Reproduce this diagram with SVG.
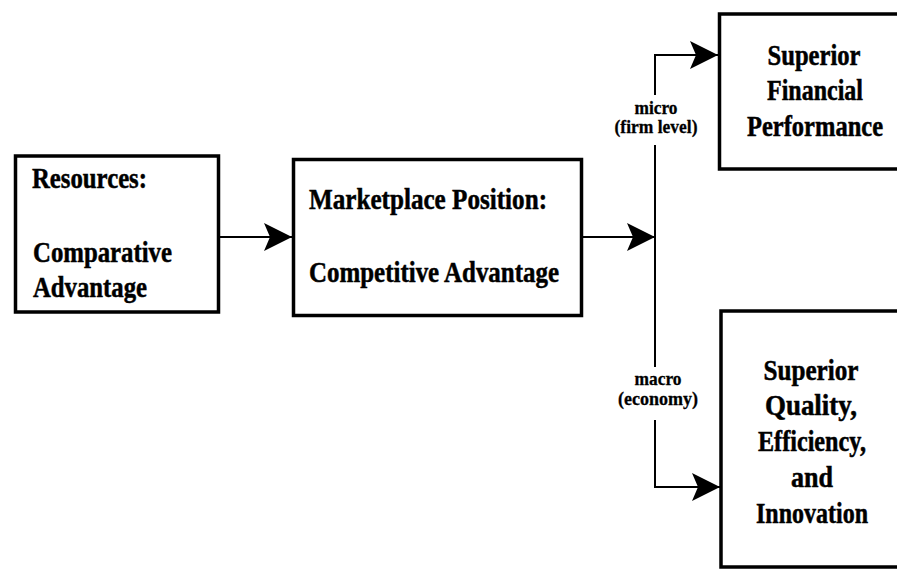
<svg xmlns="http://www.w3.org/2000/svg" width="897" height="571" viewBox="0 0 897 571">
<style>
.box{fill:#fff;stroke:#000;stroke-width:3.5}
.t{font-family:"Liberation Serif","Times New Roman",serif;font-weight:bold;font-size:30px;fill:#000;stroke:#000;stroke-width:0.5}
.r{font-size:29px}
.s{font-family:"Liberation Serif","Times New Roman",serif;font-weight:bold;font-size:19px;fill:#000;stroke:#000;stroke-width:0.3}
.c{text-anchor:middle}
.ln{fill:none;stroke:#000;stroke-width:2}
</style>
<defs>
<marker id="ah" markerUnits="userSpaceOnUse" markerWidth="30" markerHeight="30" refX="28" refY="14" orient="auto" viewBox="0 0 30 30">
<path d="M0,0 L28,14 L0,28 L6,14 z" fill="#000"/>
</marker>
</defs>
<rect width="897" height="571" fill="#fff"/>
<g id="connectors">
<line class="ln" x1="220" y1="237" x2="292" y2="237" marker-end="url(#ah)"/>
<line class="ln" x1="583" y1="237" x2="655" y2="237" marker-end="url(#ah)"/>
<path class="ln" d="M655,95 L655,55 L718,55" marker-end="url(#ah)"/>
<line class="ln" x1="655" y1="145" x2="655" y2="367"/>
<path class="ln" d="M655,420 L655,487 L720,487" marker-end="url(#ah)"/>
<text class="s c" x="656" y="114" textLength="43" lengthAdjust="spacingAndGlyphs">micro</text>
<text class="s c" x="656" y="133" textLength="83" lengthAdjust="spacingAndGlyphs">(firm level)</text>
<text class="s c" x="658" y="385" textLength="47" lengthAdjust="spacingAndGlyphs">macro</text>
<text class="s c" x="658" y="405" textLength="80" lengthAdjust="spacingAndGlyphs">(economy)</text>
</g>
<g id="resources">
<rect class="box" x="15.5" y="156" width="203" height="156"/>
<text class="t" x="32" y="188" textLength="115" lengthAdjust="spacingAndGlyphs">Resources:</text>
<text class="t" x="33" y="262" textLength="139" lengthAdjust="spacingAndGlyphs">Comparative</text>
<text class="t" x="33" y="297" textLength="114" lengthAdjust="spacingAndGlyphs">Advantage</text>
</g>
<g id="marketplace">
<rect class="box" x="293.5" y="159.5" width="288" height="156"/>
<text class="t" x="309" y="209" textLength="238" lengthAdjust="spacingAndGlyphs">Marketplace Position:</text>
<text class="t" x="309" y="282" textLength="250" lengthAdjust="spacingAndGlyphs">Competitive Advantage</text>
</g>
<g id="financial">
<rect class="box" x="719.5" y="14" width="200" height="155"/>
<text class="t r c" x="814" y="65" textLength="93" lengthAdjust="spacingAndGlyphs">Superior</text>
<text class="t r c" x="815" y="100" textLength="96" lengthAdjust="spacingAndGlyphs">Financial</text>
<text class="t r c" x="815" y="136" textLength="136" lengthAdjust="spacingAndGlyphs">Performance</text>
</g>
<g id="quality">
<rect class="box" x="721" y="311" width="200" height="256"/>
<text class="t r c" x="811" y="380" textLength="95" lengthAdjust="spacingAndGlyphs">Superior</text>
<text class="t r c" x="811" y="415" textLength="92" lengthAdjust="spacingAndGlyphs">Quality,</text>
<text class="t r c" x="812" y="451" textLength="108" lengthAdjust="spacingAndGlyphs">Efficiency,</text>
<text class="t r c" x="812" y="487" textLength="42" lengthAdjust="spacingAndGlyphs">and</text>
<text class="t r c" x="812" y="523" textLength="112" lengthAdjust="spacingAndGlyphs">Innovation</text>
</g>
</svg>
